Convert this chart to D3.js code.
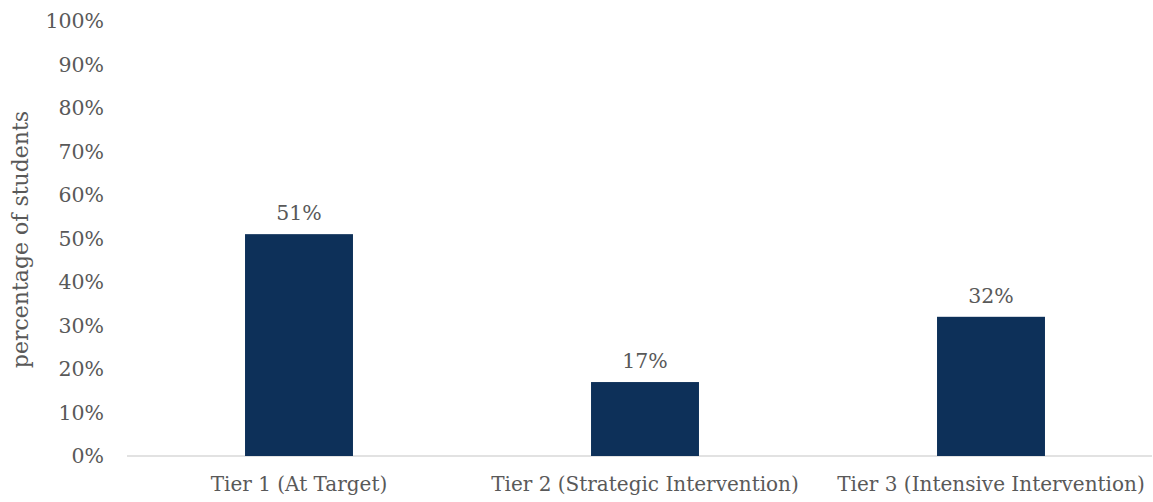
<!DOCTYPE html>
<html><head><meta charset="utf-8">
<script src="https://cdn.jsdelivr.net/npm/d3@7"></script>
<style>body{margin:0;background:#fff}svg{display:block}</style>
</head><body>
<script>
const categories = ["Tier 1 (At Target)", "Tier 2 (Strategic Intervention)", "Tier 3 (Intensive Intervention)"];
const values = [0.51, 0.17, 0.32];
const yTicks = [0, 0.1, 0.2, 0.3, 0.4, 0.5, 0.6, 0.7, 0.8, 0.9, 1.0];
const yTitle = "percentage of students";

const W = 1153, H = 502;
const font = "'DejaVu Serif', serif";
const textColor = "#595959";
const svg = d3.select("body").append("svg").attr("width", W).attr("height", H);

const x = d3.scaleBand().domain(categories).range([126, 1164]).paddingInner(0.688).paddingOuter(0.344);
const y = d3.scaleLinear().domain([0, 1]).range([456, 21]);

// baseline
svg.append("line").attr("x1", 127).attr("x2", 1152).attr("y1", y(0)).attr("y2", y(0))
  .attr("stroke", "#d9d9d9").attr("stroke-width", 1.5);

// y ticks
const yAxis = d3.axisLeft(y).tickValues(yTicks).tickFormat(d3.format(".0%")).tickSize(0).tickPadding(0);
const yg = svg.append("g").attr("transform", "translate(104,0)").call(yAxis);
yg.select(".domain").remove();
yg.selectAll("text").attr("font-family", font).attr("font-size", 20.5).attr("fill", textColor);

// y title
svg.append("text").attr("transform", `translate(28,${(y(0)+y(1))/2 + 1}) rotate(-90)`)
  .attr("text-anchor", "middle").attr("font-family", font).attr("font-size", 22).attr("fill", textColor)
  .text(yTitle);

// bars
svg.selectAll("rect.bar").data(values).join("rect").attr("class","bar")
  .attr("x", (d,i) => x(categories[i])).attr("width", x.bandwidth())
  .attr("y", d => y(d)).attr("height", d => y(0) - y(d)).attr("fill", "#0d3059");

// labels
svg.selectAll("text.lbl").data(values).join("text").attr("class","lbl")
  .attr("x", (d,i) => x(categories[i]) + x.bandwidth()/2).attr("y", d => y(d) - 14)
  .attr("text-anchor", "middle").attr("font-family", font).attr("font-size", 20.5).attr("fill", textColor)
  .text(d => d3.format(".0%")(d));

// x axis labels
const xAxis = d3.axisBottom(x).tickSize(0).tickPadding(0);
const xg = svg.append("g").attr("transform", `translate(0,${y(0)+21})`).call(xAxis);
xg.select(".domain").remove();
xg.selectAll("text").attr("font-family", font).attr("font-size", 20).attr("fill", textColor).attr("dy", "0.71em");
</script>
</body></html>
